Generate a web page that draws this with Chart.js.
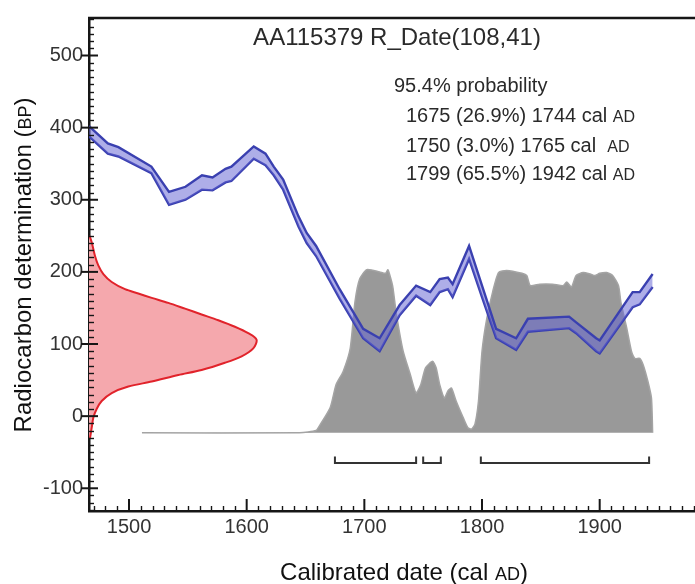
<!DOCTYPE html>
<html>
<head>
<meta charset="utf-8">
<script src="https://cdn.jsdelivr.net/npm/chart.js@4.4.0/dist/chart.umd.min.js"></script>
<style>
  html, body { margin: 0; padding: 0; background: #fff; overflow: hidden; }
  #wrap { width: 695px; height: 584px; }
</style>
</head>
<body>
<div id="wrap"><canvas id="calChart" width="695" height="584"></canvas></div>
<script>
/* OxCal style calibration plot: AA115379 R_Date(108,41) */

const FONT = '"Liberation Sans", Arial, sans-serif';

// axis ranges + tick labels
const xMin = 1466, xMax = 1981;
const yMin = -131.5, yMax = 552;
const xTicks = [1500, 1600, 1700, 1800, 1900];
const yTicks = [-100, 0, 100, 200, 300, 400, 500];

// calibration curve (IntCal band), upper / lower edge in BP
const calYears = [1466, 1482, 1491, 1519, 1534, 1548, 1562, 1571, 1582, 1587, 1606, 1616, 1623, 1631, 1644, 1651, 1659, 1679, 1699, 1713, 1730, 1744, 1756, 1764, 1771, 1775, 1789, 1800, 1812, 1829, 1839, 1874, 1880, 1897, 1900, 1928, 1934, 1945];
const calUpper = [402, 378, 373, 346, 311, 318, 334, 331, 343, 346, 374, 364, 346, 328, 277, 254, 236, 176, 121, 108, 154, 181, 172, 190, 192, 183, 236, 181, 121, 108, 135, 138, 130, 108, 105, 172, 172, 197];
const calLower = [388, 364, 360, 337, 293, 300, 314, 313, 324, 326, 357, 348, 334, 314, 263, 240, 222, 163, 108, 90, 140, 167, 154, 172, 176, 165, 218, 165, 108, 92, 117, 122, 115, 90, 87, 151, 155, 179];

// measured radiocarbon date (red, drawn along the y axis)
const measBP   = [-30, -16, -2, 10, 21, 32, 41, 48, 57, 64, 74, 83, 94, 106, 115, 124, 133, 141, 149, 157, 164, 170, 176, 186, 197, 209, 222, 241, 250];
const measYear = [1466.9, 1468.3, 1469.7, 1472.5, 1476.8, 1485.3, 1499.4, 1519.3, 1541.9, 1561.7, 1581.5, 1595.7, 1605.6, 1608.4, 1601.3, 1590, 1575.9, 1561.7, 1547.6, 1533.4, 1519.3, 1507.9, 1496.6, 1485.3, 1478.2, 1473.9, 1471.1, 1468.3, 1466.5];

// calibrated date distribution (grey)
const distBase = -23;
const distYears  = [1511, 1645, 1659, 1662, 1671, 1676, 1682, 1688, 1692, 1696, 1702, 1713, 1718, 1720, 1724, 1727, 1733, 1739, 1744, 1748, 1752, 1758, 1761, 1764, 1768, 1771, 1774, 1778, 1784, 1788, 1791, 1794, 1797, 1800, 1804, 1809, 1814, 1821, 1834, 1838, 1841, 1849, 1860, 1869, 1872, 1876, 1880, 1886, 1892, 1896, 1900, 1906, 1911, 1916, 1918, 1923, 1927, 1930, 1934, 1937, 1941, 1944, 1945];
const distValues = [-23, -23, -20, -13, 12, 44, 62, 94, 158, 190, 203, 200, 198, 203, 181, 144, 90, 58, 32, 44, 67, 76, 67, 44, 25, 35, 39, 21, -2, -16, -18, -11, 21, 90, 135, 172, 199, 202, 198, 195, 181, 183, 183, 181, 186, 179, 195, 199, 197, 195, 198, 199, 195, 181, 158, 122, 90, 80, 80, 71, 48, 25, -23];

// 95.4% ranges (brackets under the distribution)
const rangeStart = [1675, 1750, 1799];
const rangeEnd   = [1744, 1765, 1942];
const bracketY = -65, bracketTip = -56;

// text
const titleText = 'AA115379 R_Date(108,41)';
const probHeader = '95.4% probability';
const probLines = ['1675 (26.9%) 1744 cal', '1750 (3.0%) 1765 cal', '1799 (65.5%) 1942 cal'];

const toPts = (xs, ys) => xs.map((x, i) => ({ x: x, y: ys[i] }));

const bracketSets = rangeStart.map((s, i) => ({
  label: 'range ' + (i + 1),
  data: [
    { x: s, y: bracketTip }, { x: s, y: bracketY },
    { x: rangeEnd[i], y: bracketY }, { x: rangeEnd[i], y: bracketTip }
  ],
  borderColor: '#333333',
  borderWidth: 2,
  pointRadius: 0,
  fill: false,
  tension: 0,
  order: 0
}));

// draws text with a smaller-caps tail ("AD" / "BP")
function drawParts(ctx, parts, x, y, align) {
  let total = 0;
  parts.forEach(p => {
    ctx.font = p.size + 'px ' + FONT;
    p.w = ctx.measureText(p.text).width;
    total += p.w;
  });
  let cx = align === 'center' ? x - total / 2 : x;
  ctx.textAlign = 'left';
  ctx.textBaseline = 'alphabetic';
  parts.forEach(p => {
    ctx.font = p.size + 'px ' + FONT;
    ctx.fillText(p.text, cx, y);
    cx += p.w;
  });
}

const framePlugin = {
  id: 'framePlugin',
  afterDraw(chart) {
    const { ctx, chartArea: a, scales: { x, y } } = chart;
    ctx.save();
    ctx.strokeStyle = '#161616';

    // top frame line
    ctx.lineWidth = 2.5;
    ctx.beginPath();
    ctx.moveTo(a.left - 1, a.top);
    ctx.lineTo(a.right, a.top);
    ctx.stroke();

    // y ticks
    ctx.lineWidth = 1.4;
    for (let v = -130; v <= 550; v += 10) {
      if (v % 100 === 0) continue;
      const py = Math.round(y.getPixelForValue(v)) + 0.5;
      ctx.beginPath();
      ctx.moveTo(a.left, py);
      ctx.lineTo(a.left + 5, py);
      ctx.stroke();
    }
    ctx.lineWidth = 2;
    yTicks.forEach(v => {
      const py = y.getPixelForValue(v);
      ctx.beginPath();
      ctx.moveTo(a.left - 8, py);
      ctx.lineTo(a.left + 9, py);
      ctx.stroke();
    });

    // x ticks
    ctx.lineWidth = 1.4;
    for (let v = 1470; v <= 1980; v += 10) {
      if (v % 100 === 0) continue;
      const px = Math.round(x.getPixelForValue(v)) + 0.5;
      ctx.beginPath();
      ctx.moveTo(px, a.bottom);
      ctx.lineTo(px, a.bottom - 5);
      ctx.stroke();
    }
    ctx.lineWidth = 2;
    xTicks.forEach(v => {
      const px = x.getPixelForValue(v);
      ctx.beginPath();
      ctx.moveTo(px, a.bottom);
      ctx.lineTo(px, a.bottom - 12);
      ctx.stroke();
    });

    // title + probability block
    ctx.fillStyle = '#2a2a2a';
    drawParts(ctx, [{ text: titleText, size: 24 }], 397, 45, 'center');
    drawParts(ctx, [{ text: probHeader, size: 20 }], 394, 92, 'left');
    const lineY = [122, 152, 180];
    const gaps = [' ', '  ', ' '];
    probLines.forEach((t, i) => {
      drawParts(ctx, [{ text: t + gaps[i], size: 20 }, { text: 'AD', size: 16 }], 406, lineY[i], 'left');
    });

    // axis titles
    ctx.fillStyle = '#111';
    drawParts(ctx, [
      { text: 'Calibrated date (cal ', size: 24 },
      { text: 'AD', size: 18 },
      { text: ')', size: 24 }
    ], 404, 580, 'center');

    ctx.translate(31, 265);
    ctx.rotate(-Math.PI / 2);
    drawParts(ctx, [
      { text: 'Radiocarbon determination (', size: 24 },
      { text: 'BP', size: 18 },
      { text: ')', size: 24 }
    ], 0, 0, 'center');
    ctx.restore();
  }
};

new Chart(document.getElementById('calChart'), {
  type: 'line',
  data: {
    datasets: [
      {
        label: 'Calibrated date',
        data: toPts(distYears, distValues),
        borderColor: '#a4a4a4',
        borderWidth: 1.5,
        backgroundColor: '#999999',
        fill: { value: distBase },
        pointRadius: 0,
        tension: 0.2,
        order: 3
      },
      {
        label: 'R_Date(108,41)',
        indexAxis: 'y',
        data: toPts(measYear, measBP),
        borderColor: '#e1232b',
        borderWidth: 2,
        backgroundColor: '#f5a8ad',
        fill: { value: xMin },
        pointRadius: 0,
        tension: 0.3,
        order: 2
      },
      {
        label: 'IntCal upper',
        data: toPts(calYears, calUpper),
        borderColor: '#3a40b0',
        borderWidth: 2.4,
        backgroundColor: 'rgba(100, 100, 210, 0.52)',
        fill: '+1',
        pointRadius: 0,
        tension: 0,
        order: 1
      },
      {
        label: 'IntCal lower',
        data: toPts(calYears, calLower),
        borderColor: '#3a40b0',
        borderWidth: 2.4,
        fill: false,
        pointRadius: 0,
        tension: 0,
        order: 1
      },
      ...bracketSets
    ]
  },
  options: {
    responsive: false,
    animation: false,
    devicePixelRatio: 1,
    layout: { padding: { top: 13, right: 0, bottom: 0, left: 0 } },
    plugins: {
      legend: { display: false },
      tooltip: { enabled: false }
    },
    scales: {
      x: {
        type: 'linear',
        min: xMin,
        max: xMax,
        afterFit: s => { s.height = 73; },
        afterBuildTicks: s => { s.ticks = xTicks.map(v => ({ value: v })); },
        grid: { display: false, drawTicks: false },
        border: { display: true, color: '#161616', width: 2.5 },
        ticks: {
          font: { family: FONT, size: 20 },
          color: '#333333',
          padding: 4,
          maxRotation: 0,
          autoSkip: false,
          callback: v => String(v)
        }
      },
      y: {
        type: 'linear',
        min: yMin,
        max: yMax,
        afterFit: s => { s.width = 89; },
        afterBuildTicks: s => { s.ticks = yTicks.map(v => ({ value: v })); },
        grid: { display: false, drawTicks: false },
        border: { display: true, color: '#161616', width: 2.5 },
        ticks: {
          font: { family: FONT, size: 20 },
          color: '#333333',
          padding: 6,
          autoSkip: false,
          callback: v => String(v)
        }
      }
    }
  },
  plugins: [framePlugin]
});
</script>
</body>
</html>
